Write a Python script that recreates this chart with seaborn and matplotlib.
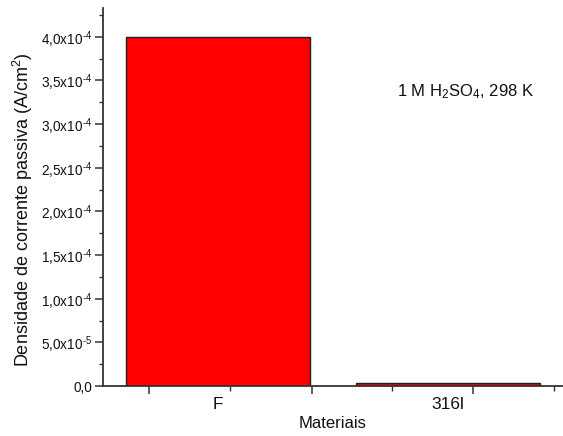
import matplotlib
matplotlib.use("Agg")
import matplotlib.pyplot as plt
import seaborn as sns
import pandas as pd
import numpy as np
from matplotlib.ticker import FixedLocator, FuncFormatter, MultipleLocator

categories = ["F", "316l"]
values = [4.0e-4, 3.0e-6]

sns.set_style("ticks")
plt.rcParams["font.family"] = ["Liberation Sans", "DejaVu Sans"]
plt.rcParams["mathtext.fontset"] = "custom"
plt.rcParams["mathtext.rm"] = "Liberation Sans"
plt.rcParams["mathtext.it"] = "Liberation Sans"
plt.rcParams["mathtext.bf"] = "Liberation Sans"
plt.rcParams["text.color"] = "#111111"
plt.rcParams["axes.labelcolor"] = "#111111"
plt.rcParams["xtick.labelcolor"] = "#111111"
plt.rcParams["ytick.labelcolor"] = "#111111"

df = pd.DataFrame({"Materiais": categories, "valor": values})

fig = plt.figure(figsize=(5.63, 4.36), dpi=100)
ax = fig.add_axes([103 / 563, 50 / 436, 460 / 563, 378 / 436])

sns.barplot(data=df, x="Materiais", y="valor", color="#ff0000", saturation=1,
            edgecolor="#202020", linewidth=1.0, width=0.8, ax=ax)

ax.set_xlim(-0.5, 1.5)
ax.set_ylim(0, 4.33e-4)

for s in ["top", "right"]:
    ax.spines[s].set_visible(False)
for s in ["left", "bottom"]:
    ax.spines[s].set_linewidth(1.3)
    ax.spines[s].set_color("#333333")

# y ticks
ax.yaxis.set_major_locator(MultipleLocator(5e-5))
ax.yaxis.set_minor_locator(MultipleLocator(2.5e-5))

def yfmt(v, pos):
    if abs(v) < 1e-12:
        return "0,0"
    exp = int(np.floor(np.log10(abs(v)) + 1e-9))
    mant = v / 10 ** exp
    return (f"{mant:.1f}".replace(".", ",")) + r"x10$^{\text{" + str(exp) + "}}$"

ax.yaxis.set_major_formatter(FuncFormatter(yfmt))
ax.tick_params(axis="y", which="major", length=6, width=1.1, direction="out",
               labelsize=9.8, color="#333333", pad=2)
ax.tick_params(axis="y", which="minor", length=3, width=1.0, direction="out",
               color="#333333")

# x category labels without tick marks
ax.set_xticks(range(len(categories)), categories)
ax.tick_params(axis="x", which="major", length=0, labelsize=12.5, pad=8)

# x tick marks (Origin-style) on a secondary axis
sec = ax.secondary_xaxis("bottom")
sec.spines["bottom"].set_visible(False)
sec.set_xticks([-0.298, 0.407, 1.11])
sec.set_xticklabels([])
sec.xaxis.set_minor_locator(FixedLocator([0.054, 0.758, 1.46]))
sec.tick_params(axis="x", which="major", length=6, width=1.1, color="#333333")
sec.tick_params(axis="x", which="minor", length=3.5, width=1.0, color="#333333")

ax.set_xlabel("Materiais", fontsize=12, labelpad=3)
ax.set_ylabel("Densidade de corrente passiva (A/cm$^{2}$)", fontsize=13)
ax.yaxis.set_label_coords(-0.148, 0.466)

ax.text(0.64, 0.778, "1 M H$_{2}$SO$_{4}$, 298 K", transform=ax.transAxes,
        fontsize=12, ha="left", va="center")

fig.savefig("out.png", dpi=100)
